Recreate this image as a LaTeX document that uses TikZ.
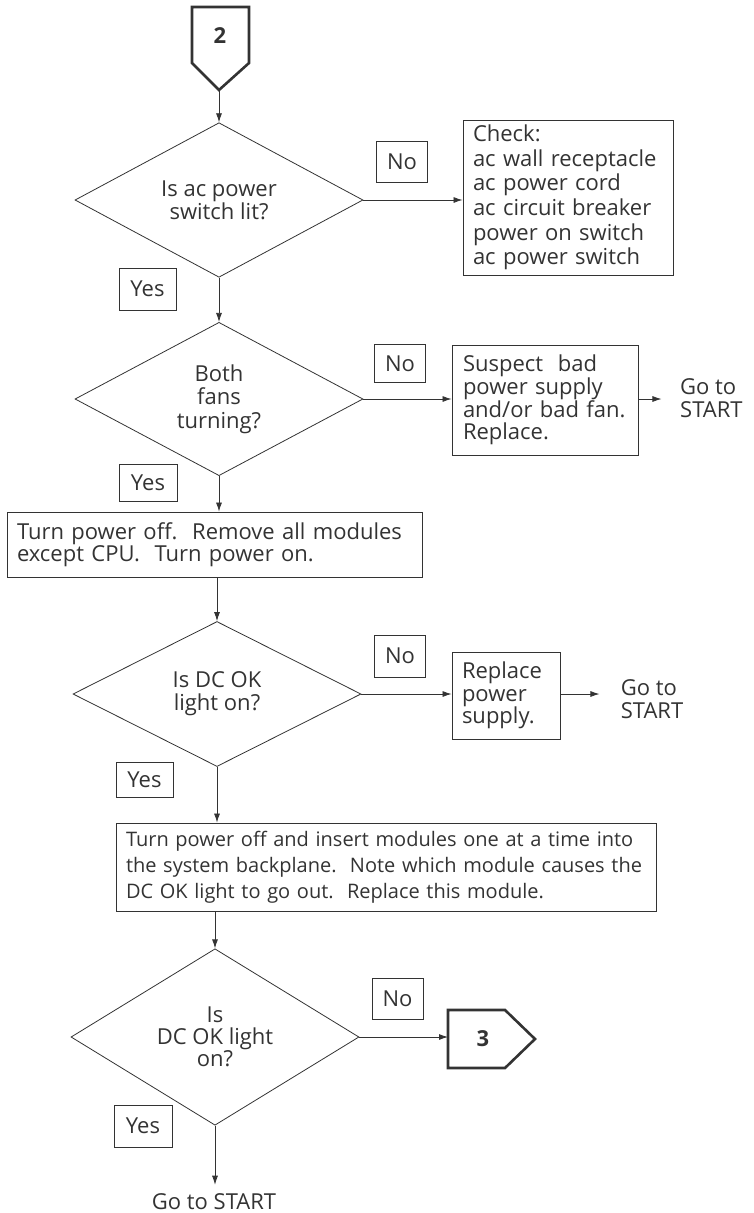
\documentclass[tikz,border=0pt]{standalone}
\usepackage{fontspec}
\setmainfont{Open Sans}
\usetikzlibrary{shapes.geometric,arrows.meta}
\definecolor{ink}{HTML}{333333}
\newcommand{\fs}[2]{\fontsize{#1}{#2}\selectfont}
\begin{document}
\begin{tikzpicture}[x=1pt,y=-1pt,
  every node/.style={font=\fs{22}{23}, text=ink},
  decision/.style={draw=ink, line width=0.8pt, diamond, minimum width=288pt,
    minimum height=145pt, inner sep=0pt, align=center},
  process/.style={draw=ink, line width=0.9pt, rectangle, inner sep=0pt,
    align=left},
  tag/.style={draw=ink, line width=0.8pt, rectangle, inner sep=0pt,
    minimum width=51pt, minimum height=40pt},
  plain/.style={inner sep=0pt, align=left},
  offpage/.style={draw=ink, line width=2.6pt, line join=miter},
  flow/.style={draw=ink, line width=0.8pt, -{Latex[length=9pt,width=6pt]}},
]
\useasboundingbox (0,0) rectangle (754,1213);

% off-page connector 2
\draw[offpage] (192,7) -- (249,7) -- (249,63) -- (219,90) -- (192,63) -- cycle;
\node[font=\fs{22}{24}\bfseries] (c2) at (220,36) {2};
\coordinate (c2tip) at (219,90);

% first decision
\node[decision] (d1) at (219,200) {Is ac power\\switch lit?};
\node[tag, minimum height=41pt] (no1) at (402,162) {No};
\node[process, font=\fs{22}{24.6}, minimum width=210pt, minimum height=155pt, text width=190pt]
  (chk) at (568,197.5) {Check:\\ac wall receptacle\\ac power cord\\ac circuit breaker\\power on switch\\ac power switch};
\node[tag, minimum width=57pt, minimum height=42pt] (yes1) at (147.5,289) {Yes};

% fans decision
\node[decision, font=\fs{22}{23.5}] (d2) at (219,399) {Both\\fans\\turning?};
\node[tag, minimum height=38pt] (no2) at (400,363.5) {No};
\node[process, font=\fs{22}{21.7}, minimum width=186pt, minimum height=110pt, text width=164pt]
  (sus) at (545,400) {Suspect\ \ bad\\power supply\\and/or bad fan.\\Replace.};
\node[plain, anchor=west] (go1) at (680,398) {Go to\\START};
\node[tag, minimum width=58pt, minimum height=37pt] (yes2) at (148,483) {Yes};

% remove modules
\node[process, font=\fs{22}{21.5}, minimum width=415pt, minimum height=65pt, text width=395pt]
  (rm) at (214.5,544.5) {Turn power off.\ \ Remove all modules\\except CPU.\ \ Turn power on.};

% DC OK decision
\node[decision] (d3) at (217,694) {Is DC OK\\light on?};
\node[tag, minimum height=42pt] (no3) at (400,656) {No};
\node[process, font=\fs{22}{22.5}, minimum width=108pt, minimum height=87pt, text width=88pt]
  (rep) at (506,695.5) {Replace\\power\\supply.};
\node[plain] (go2) at (652,699) {Go to\\START};
\node[tag, minimum width=57pt, minimum height=35pt] (yes3) at (144.5,780) {Yes};

% insert modules
\node[process, font=\fs{20}{26}, minimum width=540pt, minimum height=88pt, text width=520pt]
  (ins) at (386,867) {Turn power off and insert modules one at a time into\\the system backplane.\ \ Note which module causes the\\DC OK light to go out.\ \ Replace this module.};

% final decision
\node[decision, font=\fs{22}{22}] (d4) at (215,1037) {Is\\DC OK light\\on?};
\node[tag, minimum height=41pt] (no4) at (397.5,998.5) {No};
\draw[offpage] (448,1010) -- (505,1010) -- (535,1039) -- (505,1068) -- (448,1068) -- cycle;
\node[font=\fs{22}{24}\bfseries] (c3) at (483,1039) {3};
\coordinate (c3in) at (448,1037);
\node[tag, minimum width=58pt, minimum height=42pt] (yes4) at (143,1126) {Yes};
\node[plain] (end) at (214,1202) {Go to START};

% connectors
\draw[flow] (c2tip) -- (d1.north);
\draw[flow] (d1.east) -- (d1.east -| chk.west);
\draw[flow] (d1.south) -- (d2.north);
\draw[flow] (d2.east) -- (d2.east -| sus.west);
\draw[flow] (d2.east -| sus.east) -- ++(23,0) coordinate (g1);
\draw[flow] (d2.south) -- (d2.south |- rm.north);
\draw[flow] (rm.south -| d3.north) -- (d3.north);
\draw[flow] (d3.east) -- (d3.east -| rep.west);
\draw[flow] (d3.east -| rep.east) -- ++(39,0) coordinate (g2);
\draw[flow] (d3.south) -- (d3.south |- ins.north);
\draw[flow] (ins.south -| d4.north) -- (d4.north);
\draw[flow] (d4.east) -- (c3in);
\draw[flow, shorten >=9pt] (d4.south) -- (d4.south |- end.north);
\end{tikzpicture}
\end{document}
